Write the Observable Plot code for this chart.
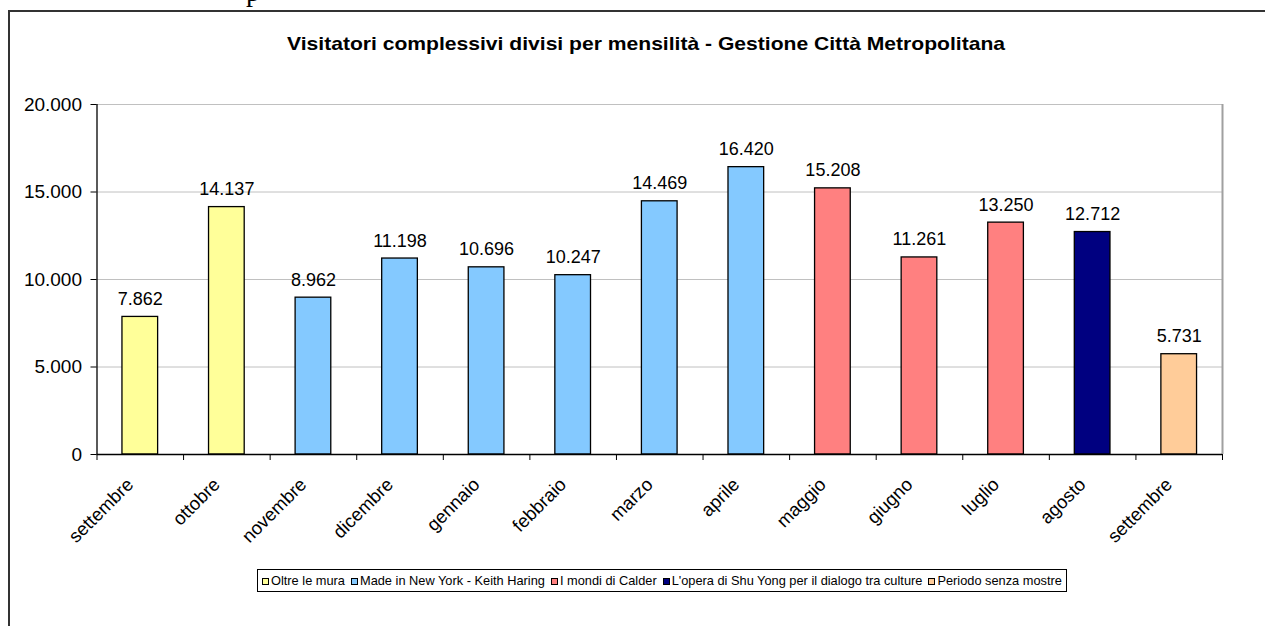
<!DOCTYPE html>
<html>
<head>
<meta charset="utf-8">
<script src="https://cdn.jsdelivr.net/npm/d3@7"></script>
<script src="https://cdn.jsdelivr.net/npm/@observablehq/plot@0.6"></script>
<style>
  html, body { margin: 0; padding: 0; background: #fff; overflow: hidden; }
  body { width: 1265px; height: 626px; position: relative; font-family: "Liberation Sans", Arial, sans-serif; }
  #frame { position: absolute; left: 8px; top: 10px; width: 1300px; height: 700px;
           border-left: 2px solid #333; border-top: 2px solid #333; }
  #frag { position: absolute; left: 246px; top: -24px; font-family: "Liberation Serif", serif; font-size: 28px; color: #000; }
  #title { position: absolute; left: 646px; top: 33px; white-space: nowrap;
           font-weight: bold; font-size: 19px; color: #000; transform-origin: 0 0; }
  #chart { position: absolute; left: 0; top: 0; }
  #legend { position: absolute; left: 257px; top: 569px; height: 23px; box-sizing: border-box;
            border: 1px solid #000; padding: 0 4px 0 4px; display: flex; align-items: center; white-space: nowrap;
            font-family: "Liberation Sans", Arial, sans-serif; font-size: 12.8px; color: #000; background:#fff; }
  .sw { display: inline-block; width: 5px; height: 5px; border: 1px solid #000; margin: 1px 2px 0 0; }
  .lt { margin-right: 6px; }
  .lt:last-child { margin-right: 0; }
</style>
</head>
<body>
<div id="frame"></div>
<div id="frag">p</div>
<div id="title">Visitatori complessivi divisi per mensilità - Gestione Città Metropolitana</div>
<div id="chart"></div>
<div id="legend"></div>
<script>
const months = ["settembre","ottobre","novembre","dicembre","gennaio","febbraio","marzo","aprile","maggio","giugno","luglio","agosto","settembre"];
const visitors = [7862, 14137, 8962, 11198, 10696, 10247, 14469, 16420, 15208, 11261, 13250, 12712, 5731];
const exhibitOf = ["Oltre le mura","Oltre le mura",
  "Made in New York - Keith Haring","Made in New York - Keith Haring","Made in New York - Keith Haring",
  "Made in New York - Keith Haring","Made in New York - Keith Haring","Made in New York - Keith Haring",
  "I mondi di Calder","I mondi di Calder","I mondi di Calder",
  "L'opera di Shu Yong per il dialogo tra culture","Periodo senza mostre"];
const exhibits = ["Oltre le mura","Made in New York - Keith Haring","I mondi di Calder","L'opera di Shu Yong per il dialogo tra culture","Periodo senza mostre"];
const exhibitColors = ["#FFFF99","#84C9FF","#FF8080","#000080","#FFCC99"];
const yTicks = [0, 5000, 10000, 15000, 20000];

const rows = visitors.map((v, i) => ({i, month: months[i], value: v, exhibit: exhibitOf[i]}));
const boundaries = d3.range(months.length + 1);
const fmt = d3.formatLocale({decimal: ",", thousands: ".", grouping: [3], currency: ["", ""]}).format(",");
const barFrac = 0.412;

const chart = Plot.plot({
  width: 1265,
  height: 560,
  marginLeft: 96.5,
  marginRight: 43,
  marginTop: 104,
  marginBottom: 106,
  style: {fontFamily: "'Liberation Sans', Arial, sans-serif", fontSize: "17px", color: "#000", background: "transparent", overflow: "visible"},
  x: {domain: [0, months.length], axis: null},
  y: {domain: [0, 20000], axis: null},
  color: {domain: exhibits, range: exhibitColors},
  marks: [
    Plot.gridY(yTicks.filter(d => d > 0), {stroke: "#c0c0c0", strokeOpacity: 1}),
    Plot.ruleX([months.length], {y1: 0, y2: 20000, stroke: "#a0a0a0", strokeWidth: 2}),
    Plot.rectY(rows, {x1: d => d.i + (1 - barFrac) / 2, x2: d => d.i + (1 + barFrac) / 2, y1: 0, y2: "value", fill: d => d.exhibit, stroke: "#000", strokeWidth: 1.3}),
    Plot.axisY({ticks: yTicks, tickFormat: fmt, tickSize: 6, tickPadding: 9, fontSize: 19, stroke: "#000", label: null}),
    Plot.ruleX([0], {y1: 0, y2: 20000, stroke: "#000", strokeWidth: 1.3}),
    Plot.ruleY([0], {stroke: "#000", strokeWidth: 1.3}),
    Plot.axisX({ticks: boundaries, tickFormat: () => "", tickSize: 6, stroke: "#000", label: null}),
    Plot.text(rows, {x: d => d.i + 0.5, y: 0, text: "month", rotate: -45, textAnchor: "end", lineAnchor: "middle", dx: -10, dy: 27, fontSize: 18.5}),
    Plot.text(rows, {x: d => d.i + 0.5, y: "value", text: d => fmt(d.value), lineAnchor: "bottom", dy: -12, fontSize: 18})
  ]
});
document.getElementById("chart").appendChild(chart);

// title: stretched horizontally like the reference, centred on x = 646
const title = document.getElementById("title");
const tw = title.getBoundingClientRect().width;
const targetW = 718;
const sx = targetW / tw;
title.style.transform = `translateX(${-targetW / 2}px) scaleX(${sx})`;

const legend = document.getElementById("legend");
exhibits.forEach((e, k) => {
  const sw = document.createElement("span");
  sw.className = "sw";
  sw.style.background = exhibitColors[k];
  const tx = document.createElement("span");
  tx.className = "lt";
  tx.textContent = e;
  legend.appendChild(sw);
  legend.appendChild(tx);
});
</script>
</body>
</html>
